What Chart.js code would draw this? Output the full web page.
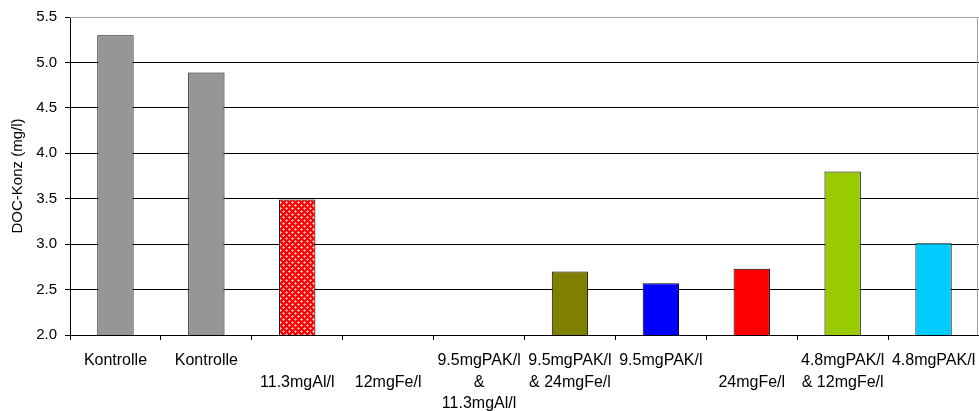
<!DOCTYPE html>
<html>
<head>
<meta charset="utf-8">
<script src="https://cdn.jsdelivr.net/npm/chart.js@4"></script>
<style>
  html, body { margin: 0; padding: 0; background: #ffffff; }
  #wrap { width: 979px; height: 411px; }
</style>
</head>
<body>
<div id="wrap"><canvas id="c" width="979" height="411"></canvas></div>
<script>
// Treatments (multi-line labels; a leading "" drops a label one line down)
const categories = [
  ["Kontrolle"],
  ["Kontrolle"],
  ["", "11.3mgAl/l"],
  ["", "12mgFe/l"],
  ["9.5mgPAK/l", "&", "11.3mgAl/l"],
  ["9.5mgPAK/l", "& 24mgFe/l"],
  ["9.5mgPAK/l"],
  ["", "24mgFe/l"],
  ["4.8mgPAK/l", "& 12mgFe/l"],
  ["4.8mgPAK/l"]
];
// DOC concentration in mg/l (no measurement for two treatments)
const docValues = [5.30, 4.89, 3.49, null, null, 2.70, 2.57, 2.73, 3.80, 3.01];
const barColors = ["#969696", "#969696", "pattern", "#969696", "#969696",
                   "#808000", "#0000ff", "#ff0000", "#99cc00", "#00ccff"];
const yTicks = [2.0, 2.5, 3.0, 3.5, 4.0, 4.5, 5.0, 5.5];

// Red fill with a small light cross pattern
function makePattern(ctx) {
  const p = document.createElement("canvas");
  p.width = 6; p.height = 6;
  const g = p.getContext("2d");
  g.fillStyle = "#ff0000";
  g.fillRect(0, 0, 6, 6);
  g.fillStyle = "#ffa8a8";
  [[1,0],[0,1],[1,1],[2,1],[1,2],[4,3],[3,4],[4,4],[5,4],[4,5]].forEach(([x, y]) => g.fillRect(x, y, 1, 1));
  return ctx.createPattern(p, "repeat");
}

const canvas = document.getElementById("c");
const ctx = canvas.getContext("2d");
const pattern = makePattern(ctx);
const fills = barColors.map(c => c === "pattern" ? pattern : c);

// Grey frame along the top and right of the plot area
const frame = {
  id: "frame",
  afterDraw(chart) {
    const a = chart.chartArea, c = chart.ctx;
    c.save();
    c.strokeStyle = "#a0a0a0";
    c.lineWidth = 1;
    c.beginPath();
    c.moveTo(a.left, a.top + 0.5);
    c.lineTo(a.right - 1.5, a.top + 0.5);
    c.lineTo(a.right - 1.5, a.bottom);
    c.stroke();
    c.restore();
  }
};

new Chart(ctx, {
  type: "bar",
  data: {
    labels: categories,
    datasets: [{
      data: docValues,
      backgroundColor: fills,
      borderColor: "#000000",
      borderWidth: 1,
      barPercentage: 0.4,
      categoryPercentage: 1.0
    }]
  },
  options: {
    responsive: false,
    animation: false,
    layout: { padding: { top: 15, right: 0, left: 0, bottom: 0 } },
    plugins: { legend: { display: false }, tooltip: { enabled: false } },
    scales: {
      x: {
        grid: {
          offset: true,
          drawOnChartArea: false,
          drawTicks: true,
          tickLength: 5,
          tickColor: "#000000"
        },
        border: { color: "#000000" },
        ticks: {
          autoSkip: false,
          maxRotation: 0,
          minRotation: 0,
          padding: 10,
          color: "#000000",
          font: { family: "Liberation Sans", size: 16, lineHeight: 1.35 }
        },
        afterFit(scale) {
          scale.height = 76;
          scale.paddingLeft = 0;
          scale.paddingRight = 0;
        }
      },
      y: {
        min: 2.0,
        max: 5.5,
        afterBuildTicks(scale) { scale.ticks = yTicks.map(v => ({ value: v })); },
        grid: {
          color: (c) => (c.tick && c.tick.value === 5.5) ? "#a0a0a0" : "#000000",
          tickLength: 5,
          tickColor: "#000000"
        },
        border: { color: "#000000" },
        ticks: {
          padding: 8,
          color: "#000000",
          font: { family: "Liberation Sans", size: 15 },
          callback: (v) => Number(v).toFixed(1)
        },
        title: {
          display: true,
          text: "DOC-Konz (mg/l)",
          color: "#000000",
          padding: { top: 9, bottom: 0 },
          font: { family: "Liberation Sans", size: 15 }
        },
        afterFit(scale) { scale.width = 70; }
      }
    }
  },
  plugins: [frame]
});
</script>
</body>
</html>
